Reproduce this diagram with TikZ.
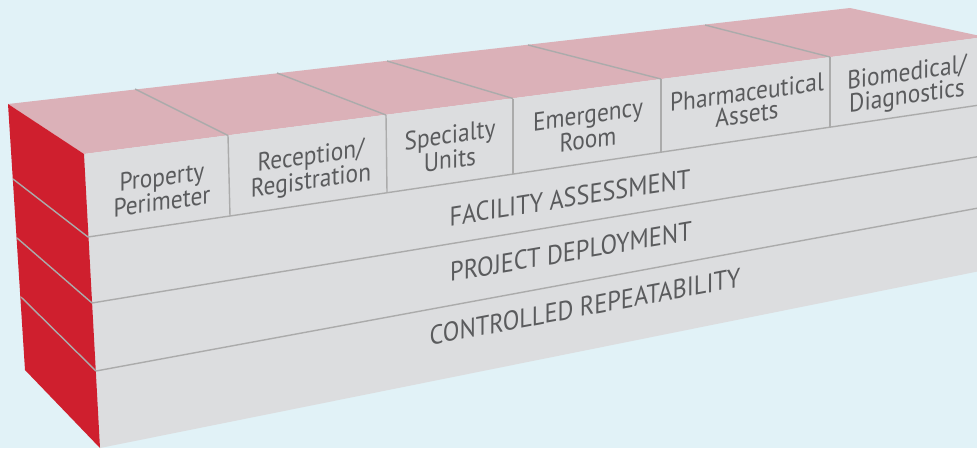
\documentclass[tikz,border=0pt]{standalone}
\usepackage{fontspec}
\setmainfont{PT Sans}[FakeStretch=0.9]
\definecolor{bg}{HTML}{E1F2F7}
\definecolor{topc}{HTML}{DBB1B8}
\definecolor{frontc}{HTML}{DCDDDF}
\definecolor{redc}{HTML}{CF1F2E}
\definecolor{linec}{HTML}{ABABAB}
\definecolor{txtc}{HTML}{5A5B5D}
\tikzset{
  sep/.style={draw=linec, line width=1.4pt},
  collbl/.style={text=txtc, align=center, inner sep=0pt, font=\fontsize{26}{22}\selectfont, yslant=0.141},
  rowlbl/.style={text=txtc, inner sep=0pt, anchor=base, font=\fontsize{27}{27}\selectfont}
}
\begin{document}
\begin{tikzpicture}[x=1pt,y=-1pt]
\useasboundingbox (0,0) rectangle (977,448);
\fill[bg] (0,0) rectangle (977,448);
\clip (0,0) rectangle (977,448);
% corners
\coordinate (B0) at (8,104);
\coordinate (B1) at (13,179);
\coordinate (B2) at (17,238);
\coordinate (B3) at (21,297);
\coordinate (B4) at (25,370);
\coordinate (BR) at (850,8);
\coordinate (FR) at (985,37);
\coordinate (L0) at (84,154);
\coordinate (L1) at (88,237);
\coordinate (L2) at (92,303);
\coordinate (L3) at (96,371);
\coordinate (L4) at (100,448);
\coordinate (R0) at (1000,35);
\coordinate (R1) at (1000,102);
\coordinate (R2) at (1000,153);
\coordinate (R3) at (1000,204);
\coordinate (R4) at (1000,267);
% faces
\fill[topc] (B0) -- (BR) -- (FR) -- (L0) -- cycle;
\fill[frontc] (L0) -- (R0) -- (R4) -- (L4) -- cycle;
\fill[redc] (B0) -- (L0) -- (L4) -- (B4) -- cycle;
% left face lines
\draw[sep] (B1) -- (L1);
\draw[sep] (B2) -- (L2);
\draw[sep] (B3) -- (L3);
% front row lines
\draw[sep] (L1) -- (R1);
\draw[sep] (L2) -- (R2);
\draw[sep] (L3) -- (R3);
% column dividers
\coordinate (D1t) at (228,135.5); \coordinate (D1b) at (230,216);
\coordinate (D2t) at (386,115);   \coordinate (D2b) at (387,192.5);
\coordinate (D3t) at (513,98.5);  \coordinate (D3b) at (513,174);
\coordinate (D4t) at (661,79);    \coordinate (D4b) at (661,152);
\coordinate (D5t) at (830,57);    \coordinate (D5b) at (830,127);
\draw[sep] (D1t) -- (D1b);
\draw[sep] (D2t) -- (D2b);
\draw[sep] (D3t) -- (D3b);
\draw[sep] (D4t) -- (D4b);
\draw[sep] (D5t) -- (D5b);
% top dividers
\coordinate (T1) at (135,89);
\coordinate (T2) at (277,73);
\coordinate (T3) at (387,61);
\coordinate (T4) at (528,45);
\coordinate (T5) at (705,25);
\draw[sep] (T1) -- (D1t);
\draw[sep] (T2) -- (D2t);
\draw[sep] (T3) -- (D3t);
\draw[sep] (T4) -- (D4t);
\draw[sep] (T5) -- (D5t);
% column labels
\node[collbl] (c1) at (162,189) {Property\\Perimeter};
\node[collbl] (c2) at (311,170) {Reception/\\Registration};
\node[collbl] (c3) at (450,147) {Specialty\\Units};
\node[collbl] (c4) at (588,127) {Emergency\\Room};
\node[collbl] (c5) at (747,103) {Pharmaceutical\\Assets};
\node[collbl] (c6) at (907,86) {Biomedical/\\Diagnostics};
% row labels
\node[rowlbl, yslant=0.158] (r1) at (570,207) {FACILITY ASSESSMENT};
\node[rowlbl, yslant=0.173] (r2) at (571,261) {PROJECT DEPLOYMENT};
\node[rowlbl, yslant=0.189] (r3) at (585,316) {CONTROLLED REPEATABILITY};
\end{tikzpicture}
\end{document}
